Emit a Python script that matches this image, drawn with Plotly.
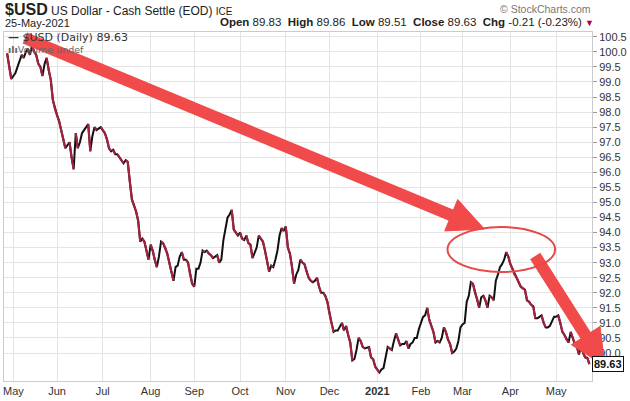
import plotly.graph_objects as go

dates = [
"2020-04-28","2020-04-29","2020-04-30","2020-05-01","2020-05-04","2020-05-05","2020-05-06","2020-05-07","2020-05-08",
"2020-05-11","2020-05-12","2020-05-13","2020-05-14","2020-05-15","2020-05-18","2020-05-19","2020-05-20","2020-05-21",
"2020-05-22","2020-05-25","2020-05-26","2020-05-27","2020-05-28","2020-05-29",
"2020-06-01","2020-06-02","2020-06-03","2020-06-04","2020-06-05","2020-06-08","2020-06-09","2020-06-10","2020-06-11",
"2020-06-12","2020-06-15","2020-06-16","2020-06-17","2020-06-18","2020-06-19","2020-06-22","2020-06-23","2020-06-24",
"2020-06-25","2020-06-26","2020-06-29","2020-06-30",
"2020-07-01","2020-07-02","2020-07-03","2020-07-06","2020-07-07","2020-07-08","2020-07-09","2020-07-10","2020-07-13",
"2020-07-14","2020-07-15","2020-07-16","2020-07-17","2020-07-20","2020-07-21","2020-07-22","2020-07-23","2020-07-24",
"2020-07-27","2020-07-28","2020-07-29","2020-07-30","2020-07-31",
"2020-08-03","2020-08-04","2020-08-05","2020-08-06","2020-08-07","2020-08-10","2020-08-11","2020-08-12","2020-08-13",
"2020-08-14","2020-08-17","2020-08-18","2020-08-19","2020-08-20","2020-08-21","2020-08-24","2020-08-25","2020-08-26",
"2020-08-27","2020-08-28","2020-08-31",
"2020-09-01","2020-09-02","2020-09-03","2020-09-04","2020-09-07","2020-09-08","2020-09-09","2020-09-10","2020-09-11",
"2020-09-14","2020-09-15","2020-09-16","2020-09-17","2020-09-18","2020-09-21","2020-09-22","2020-09-23","2020-09-24",
"2020-09-25","2020-09-28","2020-09-29","2020-09-30",
"2020-10-01","2020-10-02","2020-10-05","2020-10-06","2020-10-07","2020-10-08","2020-10-09","2020-10-12","2020-10-13",
"2020-10-14","2020-10-15","2020-10-16","2020-10-19","2020-10-20","2020-10-21","2020-10-22","2020-10-23","2020-10-26",
"2020-10-27","2020-10-28","2020-10-29","2020-10-30",
"2020-11-02","2020-11-03","2020-11-04","2020-11-05","2020-11-06","2020-11-09","2020-11-10","2020-11-11","2020-11-12",
"2020-11-13","2020-11-16","2020-11-17","2020-11-18","2020-11-19","2020-11-20","2020-11-23","2020-11-24","2020-11-25",
"2020-11-26","2020-11-27","2020-11-30",
"2020-12-01","2020-12-02","2020-12-03","2020-12-04","2020-12-07","2020-12-08","2020-12-09","2020-12-10","2020-12-11",
"2020-12-14","2020-12-15","2020-12-16","2020-12-17","2020-12-18","2020-12-21","2020-12-22","2020-12-23","2020-12-24",
"2020-12-28","2020-12-29","2020-12-30","2020-12-31",
"2021-01-04","2021-01-05","2021-01-06","2021-01-07","2021-01-08","2021-01-11","2021-01-12","2021-01-13","2021-01-14",
"2021-01-15","2021-01-18","2021-01-19","2021-01-20","2021-01-21","2021-01-22","2021-01-25","2021-01-26","2021-01-27",
"2021-01-28","2021-01-29",
"2021-02-01","2021-02-02","2021-02-03","2021-02-04","2021-02-05","2021-02-08","2021-02-09","2021-02-10","2021-02-11",
"2021-02-12","2021-02-15","2021-02-16","2021-02-17","2021-02-18","2021-02-19","2021-02-22","2021-02-23","2021-02-24",
"2021-02-25","2021-02-26",
"2021-03-01","2021-03-02","2021-03-03","2021-03-04","2021-03-05","2021-03-08","2021-03-09","2021-03-10","2021-03-11",
"2021-03-12","2021-03-15","2021-03-16","2021-03-17","2021-03-18","2021-03-19","2021-03-22","2021-03-23","2021-03-24",
"2021-03-25","2021-03-26","2021-03-29","2021-03-30","2021-03-31",
"2021-04-01","2021-04-02","2021-04-05","2021-04-06","2021-04-07","2021-04-08","2021-04-09","2021-04-12","2021-04-13",
"2021-04-14","2021-04-15","2021-04-16","2021-04-19","2021-04-20","2021-04-21","2021-04-22","2021-04-23","2021-04-26",
"2021-04-27","2021-04-28","2021-04-29","2021-04-30",
"2021-05-03","2021-05-04","2021-05-05","2021-05-06","2021-05-07","2021-05-10","2021-05-11","2021-05-12","2021-05-13",
"2021-05-14","2021-05-17","2021-05-18","2021-05-19","2021-05-20","2021-05-21","2021-05-24","2021-05-25",
]

closes = [
99.95,99.5,99.1,99.2,99.3,99.5,99.7,99.9,99.8,
100.0,100.1,99.9,100.2,100.0,99.9,99.6,99.5,99.2,
99.6,99.8,99.4,99.07,98.4,98.1,
97.9,97.7,97.4,97.1,96.8,96.9,97.0,96.5,96.1,
97.3,96.8,97.0,97.3,97.4,97.5,97.6,96.7,97.2,
97.5,97.4,97.45,97.5,
97.4,97.3,97.1,96.8,96.7,96.75,96.6,96.6,96.5,
96.4,96.3,96.4,96.35,95.7,95.1,94.9,94.7,94.4,
93.7,93.8,93.7,93.4,93.1,
93.6,93.4,93.1,92.85,93.2,93.7,93.65,93.5,93.3,
93.0,92.7,92.4,92.85,92.9,93.2,93.35,93.1,93.1,
93.0,92.6,92.3,
92.2,92.8,92.8,93.0,93.4,93.35,93.4,93.3,93.25,
93.15,93.2,93.25,93.0,93.1,93.75,94.1,94.5,94.6,
94.75,94.1,94.0,93.9,
94.0,93.8,93.75,93.9,93.65,93.6,93.15,93.3,93.5,
93.9,93.8,93.7,93.4,93.05,92.7,92.9,92.85,93.1,
93.4,93.9,94.15,94.05,
94.2,93.5,93.3,92.85,92.3,92.6,92.75,93.1,93.0,
92.95,92.7,92.5,92.4,92.35,92.4,92.5,92.2,92.0,
92.0,91.9,91.7,
91.3,91.0,90.7,90.75,90.75,90.9,91.0,90.75,90.9,
90.6,90.35,89.75,89.8,90.1,90.5,90.4,90.2,90.15,
90.2,89.85,89.8,89.55,
89.35,89.45,89.5,89.85,90.2,90.15,90.1,90.4,90.65,
90.45,90.25,90.3,90.3,90.4,90.15,90.3,90.35,90.5,
90.5,90.8,
91.0,91.2,91.25,91.5,91.1,90.9,90.7,90.35,90.4,
90.35,90.5,90.85,90.7,90.45,90.3,90.0,90.05,90.15,
90.4,90.85,
90.95,91.0,91.7,91.9,92.35,92.3,92.0,91.8,91.5,
91.85,91.9,91.75,91.5,91.9,91.85,91.75,92.4,92.6,
92.85,92.95,93.1,93.35,93.2,
92.95,92.8,92.6,92.5,92.35,92.2,92.15,92.1,91.75,
91.7,91.6,91.55,91.15,91.15,91.2,91.25,91.0,90.85,
90.85,90.9,91.05,91.2,
91.2,91.25,91.0,90.7,90.6,90.45,90.35,90.7,90.5,
90.3,90.2,89.95,90.25,90.0,89.85,89.84,89.63,
]

month_ticks = ["2020-05-01","2020-06-01","2020-07-01","2020-08-03","2020-09-01","2020-10-01","2020-11-02",
               "2020-12-01","2021-01-01","2021-02-01","2021-03-01","2021-04-01","2021-05-03"]
month_labels = ["May","Jun","Jul","Aug","Sep","Oct","Nov","Dec","<b>2021</b>","Feb","Mar","Apr","May"]

y_ticks = [90.0 + 0.5 * i for i in range(22)]

W, H = 630, 401
ML, MR, MT, MB = 3, 37, 32, 20
PW, PH = W - ML - MR, H - MT - MB


def px(x):
    return (x - ML) / PW


def py(y):
    return (H - MB - y) / PH


# down segments overlay
dn_x, dn_y = [], []
for i in range(len(closes) - 1):
    if closes[i + 1] < closes[i]:
        dn_x += [dates[i], dates[i + 1], None]
        dn_y += [closes[i], closes[i + 1], None]

fig = go.Figure()
fig.add_trace(go.Scatter(x=dates, y=closes, mode="lines",
                         line=dict(color="#111111", width=2), hoverinfo="skip"))
fig.add_trace(go.Scatter(x=dn_x, y=dn_y, mode="lines",
                         line=dict(color="#a3223f", width=2.2), hoverinfo="skip", connectgaps=False))

RED = "#f04a4a"
shapes = []


def arrow(x0, y0, tx, ty, head_len, head_w, width):
    import math
    dx, dy = tx - x0, ty - y0
    L = math.hypot(dx, dy)
    ux, uy = dx / L, dy / L
    nx, ny = -uy, ux
    bx, by = tx - head_len * ux, ty - head_len * uy
    shapes.append(dict(type="line", xref="paper", yref="paper",
                       x0=px(x0), y0=py(y0), x1=px(bx + 2 * ux), y1=py(by + 2 * uy),
                       line=dict(color=RED, width=width)))
    p1 = (bx + head_w * nx, by + head_w * ny)
    p2 = (bx - head_w * nx, by - head_w * ny)
    path = "M {},{} L {},{} L {},{} Z".format(px(p1[0]), py(p1[1]), px(tx), py(ty), px(p2[0]), py(p2[1]))
    shapes.append(dict(type="path", xref="paper", yref="paper", path=path,
                       fillcolor=RED, line=dict(color=RED, width=1)))


arrow(24, 38, 485, 229, 36, 17, 12)
arrow(536, 256, 606, 366, 36, 17, 12)
shapes.append(dict(type="circle", xref="paper", yref="paper",
                   x0=px(448), x1=px(556), y0=py(272), y1=py(227),
                   line=dict(color="#e84848", width=2)))

FONT = "Liberation Sans, Arial, sans-serif"
ann = [
    dict(x=px(2), y=py(10), xanchor="left", yanchor="middle",
         text="<span style='font-size:16px'><b>$USD</b></span> US Dollar - Cash Settle (EOD) <span style='font-size:10px'>ICE</span>",
         font=dict(size=12, color="#222", family=FONT)),
    dict(x=px(2), y=py(23), xanchor="left", yanchor="middle", text="25-May-2021",
         font=dict(size=11, color="#222", family=FONT)),
    dict(x=px(597), y=py(22), xanchor="right", yanchor="middle",
         text="<b>Open</b> 89.83  <b>High</b> 89.86  <b>Low</b> 89.51  <b>Close</b> 89.63  <b>Chg</b> -0.21 (-0.23%) <span style='color:#b0003a;font-size:9px'>▼</span>",
         font=dict(size=11.5, color="#222", family=FONT)),
    dict(x=px(594), y=py(9), xanchor="right", yanchor="middle", text="© StockCharts.com",
         font=dict(size=10.5, color="#777", family=FONT)),
    dict(x=px(5), y=py(38), xanchor="left", yanchor="middle", text="<b>—</b> $USD (Daily) 89.63",
         font=dict(size=11, color="#333", family="DejaVu Sans"), bgcolor="rgba(255,255,255,0)"),
    dict(x=px(5), y=py(49), xanchor="left", yanchor="middle", text="<b>ılı</b>Volume undef",
         font=dict(size=9.5, color="#666", family="DejaVu Sans")),
    dict(x=1.0, xref="paper", y=89.63, yref="y", xanchor="left", yanchor="middle", text="<b>89.63</b>",
         font=dict(size=11, color="#111", family=FONT), bgcolor="white", bordercolor="#111",
         borderwidth=1, borderpad=1, showarrow=False),
]
for a in ann:
    a.setdefault("xref", "paper")
    a.setdefault("yref", "paper")
    a.setdefault("showarrow", False)

fig.update_layout(
    width=W, height=H,
    margin=dict(l=ML, r=MR, t=MT, b=MB),
    paper_bgcolor="white", plot_bgcolor="white",
    showlegend=False,
    shapes=shapes,
    annotations=ann,
    font=dict(family=FONT, size=11, color="#333"),
    xaxis=dict(type="date", range=["2020-04-24 12:00", "2021-05-26 06:00"],
               rangebreaks=[dict(bounds=["sat", "mon"])],
               tickvals=month_ticks, ticktext=month_labels, tickangle=0,
               showgrid=True, gridcolor="#e4e4e4", gridwidth=1,
               showline=True, mirror=True, linecolor="#cccccc",
               ticks="", tickfont=dict(size=11, color="#333", family=FONT), zeroline=False),
    yaxis=dict(side="right", range=[89.07, 100.66], tickvals=y_ticks,
               ticktext=["{:.1f}".format(v) for v in y_ticks],
               showgrid=True, gridcolor="#e4e4e4", gridwidth=1,
               showline=True, mirror=True, linecolor="#cccccc",
               ticks="outside", ticklen=4, tickcolor="#999",
               tickfont=dict(size=11, color="#333", family=FONT), zeroline=False),
)

fig.write_html("out.html")
